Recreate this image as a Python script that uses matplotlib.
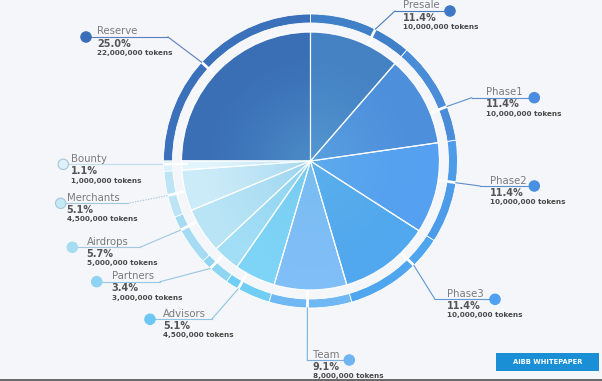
import numpy as np
import matplotlib
matplotlib.use("Agg")
import matplotlib.pyplot as plt
from matplotlib.patches import Circle, Rectangle

# ---------------- data ----------------
categories = ["Reserve", "Bounty", "Merchants", "Airdrops", "Partners", "Advisors",
              "Team", "Phase3", "Phase2", "Phase1", "Presale"]
percent_labels = ["25.0%", "1.1%", "5.1%", "5.7%", "3.4%", "5.1%",
                  "9.1%", "11.4%", "11.4%", "11.4%", "11.4%"]
tokens = [22000000, 1000000, 4500000, 5000000, 3000000, 4500000,
          8000000, 10000000, 10000000, 10000000, 10000000]
button_text = "AiBB WHITEPAPER"

# ---------------- styles ----------------
W, H = 602, 381
bg = "#F4F6F9"
pie_colors = ["#3A6FB6", "#E2F5FC", "#CBEBF8", "#B8E4F6", "#A2DEF6", "#7ED4F7",
              "#80BEF7", "#52A8EE", "#55A0F0", "#4E8FDC", "#4582C4"]
ring_colors = ["#3B70BA", "#D8F1FA", "#BDE4F5", "#A6DCF3", "#90D6F3", "#70CDF4",
               "#70B8F4", "#4FA6EE", "#4C9CEA", "#4A8CD8", "#4080C8"]
dot_colors = ["#3A6FB8", "#DDF2FA", "#C5E8F5", "#A5DCF2", "#8ED4F2", "#6CC8F2",
              "#70B4F2", "#4FA0F0", "#4A90E2", "#4A8CE0", "#3F78C4"]
line_colors = ["#5C7FBA", "#C0DDEB", "#A5C8DD", "#A0C8E0", "#98C6E0", "#8EC5E5",
               "#7CAEDD", "#5D97D8", "#5E8FCB", "#5F8FD0", "#4A7CC0"]

# layout (image pixel coords, y downward)
cx_img, cy_img = 310.5, 161.0
R_pie, R_ring_out, ring_w = 129, 147, 9
notch_deg = [137.8, -178.7, -166.4, -152.0, -133.0, -119.5,
             -91.2, -45.3, -8.5, 21.8, 63.8]
elbow = [(168, 37), None, (128.3, 203.3), (140, 247.3), (160, 281.7), (211.7, 319.3),
         (307.3, 360), (435, 299.3), (480, 186), (471.7, 97.7), (395, 11)]
dots = [(86, 37), (63.3, 164.3), (60.7, 203.3), (72.3, 247.3), (96.7, 281.7), (150, 319.3),
        (349.3, 360), (495, 299.3), (534.3, 186), (534.3, 97.7), (450, 11)]
text_x = [97, 70.7, 66.7, 86.7, 111.7, 163.3, 312.7, 446.7, 490, 485.7, 403]


def Y(y):
    return H - y


fig = plt.figure(figsize=(W / 100, H / 100), dpi=100, facecolor=bg)
ax = fig.add_axes([0, 0, 1, 1])
ax.set_xlim(0, W)
ax.set_ylim(0, H)
ax.set_aspect("equal")
ax.axis("off")
ax.set_facecolor(bg)

center = (cx_img, Y(cy_img))

# outer ring
ax.pie(tokens, colors=ring_colors, startangle=90, counterclock=True,
       radius=R_ring_out, center=center, frame=True,
       wedgeprops=dict(width=ring_w, edgecolor="white", linewidth=0.6))
# main pie
wedges, _ = ax.pie(tokens, colors=pie_colors, startangle=90, counterclock=True,
                   radius=R_pie, center=center, frame=True,
                   wedgeprops=dict(edgecolor=(1, 1, 1, 0.75), linewidth=0.8))
ax.set_xlim(0, W)
ax.set_ylim(0, H)
ax.axis("off")

# radial glow overlay
n = 300
g = np.linspace(-1, 1, n)
xx, yy = np.meshgrid(g, g)
rr = np.sqrt(xx ** 2 + yy ** 2)
glow = np.zeros((n, n, 4))
glow[..., 0] = 0.42
glow[..., 1] = 0.74
glow[..., 2] = 0.90
glow[..., 3] = 0.38 * np.clip(1 - rr / 0.85, 0, 1) ** 1.3
im = ax.imshow(glow, extent=(center[0] - R_pie, center[0] + R_pie,
                             center[1] - R_pie, center[1] + R_pie),
               origin="lower", zorder=1.5, interpolation="bilinear")
clip = Circle(center, R_pie, transform=ax.transData)
im.set_clip_path(clip)
# redraw separators above glow
ax.pie(tokens, colors=["none"] * len(tokens), startangle=90, counterclock=True,
       radius=R_pie, center=center, frame=True,
       wedgeprops=dict(edgecolor=(1, 1, 1, 0.7), linewidth=0.8, zorder=2))
ax.set_xlim(0, W)
ax.set_ylim(0, H)
ax.set_aspect("equal")
ax.axis("off")

# leader lines, notches, dots and labels
for i, name in enumerate(categories):
    a = np.deg2rad(notch_deg[i])
    p_in = (center[0] + (R_pie + 1) * np.cos(a), center[1] + (R_pie + 1) * np.sin(a))
    p_out = (center[0] + R_ring_out * np.cos(a), center[1] + R_ring_out * np.sin(a))
    ax.plot([p_in[0], p_out[0]], [p_in[1], p_out[1]], color="white", lw=2.0,
            solid_capstyle="butt", zorder=3)
    dx, dy = dots[i]
    ls = (0, (1.2, 1.2)) if name == "Merchants" else "-"
    if elbow[i] is None:
        xs = [p_out[0], dx]
        ys = [Y(dy), Y(dy)]
        ax.plot(xs, ys, color=line_colors[i], lw=0.8, zorder=3)
        # also across the ring into the pie
        ax.plot([p_in[0] + 6, p_out[0]], [Y(dy), Y(dy)], color="white", lw=1.6, zorder=3)
    else:
        ex, ey = elbow[i]
        ax.plot([p_out[0], ex], [p_out[1], Y(ey)], color=line_colors[i], lw=0.8,
                linestyle=ls, zorder=3)
        ax.plot([ex, dx], [Y(ey), Y(dy)], color=line_colors[i], lw=0.8, zorder=3)
    edge = "#A9C6D8" if name in ("Bounty", "Merchants") else dot_colors[i]
    ax.add_patch(Circle((dx, Y(dy)), 5.2, facecolor=dot_colors[i], edgecolor=edge,
                        lw=0.8, zorder=4))
    tx = text_x[i]
    ax.text(tx, Y(dy - 2.5), name, fontsize=7.3, color="#7A7A7A",
            ha="left", va="baseline", zorder=5)
    ax.text(tx, Y(dy + 9.6), percent_labels[i], fontsize=7.0, color="#555555",
            fontweight="bold", ha="left", va="baseline", zorder=5)
    ax.text(tx, Y(dy + 18.2), f"{tokens[i]:,} tokens", fontsize=5.2, color="#4A4A4A",
            fontweight="bold", ha="left", va="baseline", zorder=5)

# button
ax.add_patch(Rectangle((496, Y(371)), 103, 18, facecolor="#1A8FD6", edgecolor="none", zorder=5))
ax.text(547.5, Y(362), button_text, fontsize=4.9, color="white", fontweight="bold",
        ha="center", va="center", zorder=6)

# bottom border
ax.add_patch(Rectangle((0, 0), W, 2.4, facecolor="#6B6B6B", edgecolor="none", zorder=7))

fig.savefig("out.png", dpi=100, facecolor=bg)
